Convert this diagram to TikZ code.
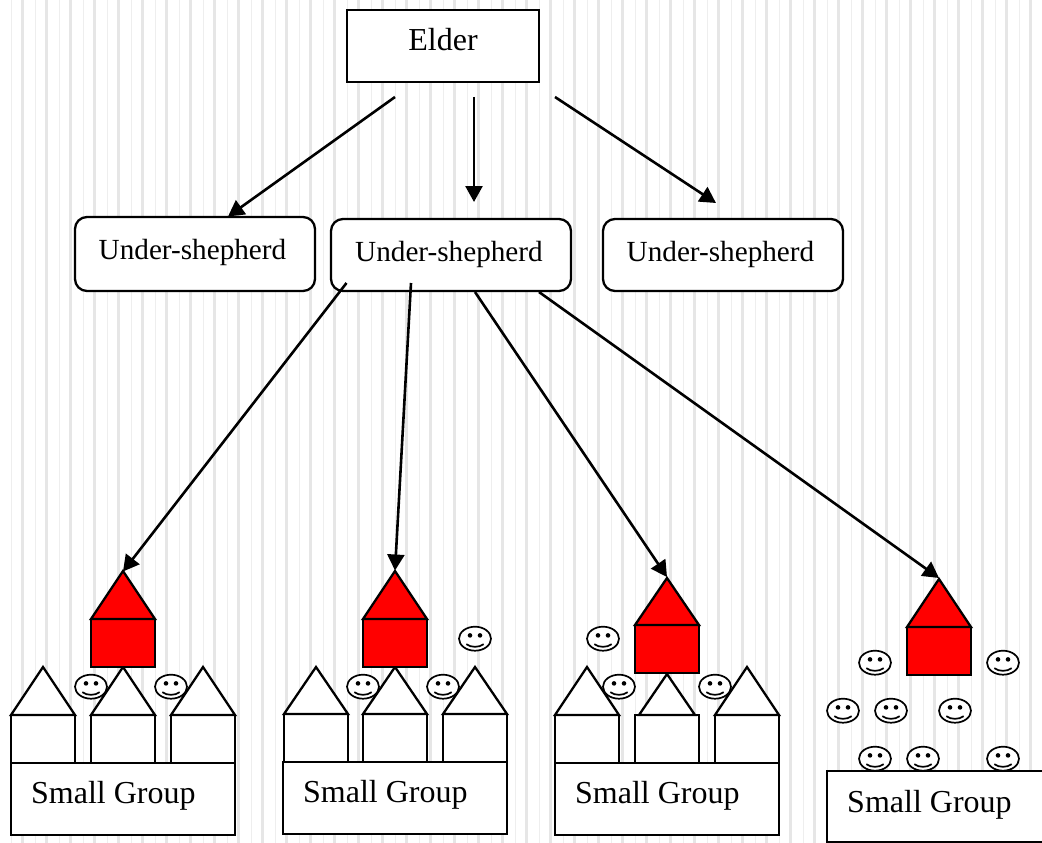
\documentclass[tikz,border=0pt]{standalone}
\usepackage{fontspec}
\setmainfont{Liberation Serif}
\usetikzlibrary{arrows.meta}
\definecolor{thickstripe}{HTML}{E6E6E6}
\definecolor{thinstripe}{HTML}{EEEEEE}
\definecolor{housered}{HTML}{FF0000}
\tikzset{
  ink/.style={draw=black,line width=2.3pt},
  plainbox/.style={ink,fill=white,rectangle,minimum width=#1,inner sep=0pt,outer sep=0pt},
  roundbox/.style={ink,fill=white,rectangle,rounded corners=12pt,minimum width=240pt,inner sep=0pt,outer sep=0pt},
  bigtext/.style={font=\fontsize{32}{36}\selectfont,anchor=base west,inner sep=0pt},
  midtext/.style={font=\fontsize{29.2}{33}\selectfont,anchor=base,inner sep=0pt},
  arrowline/.style={draw=black,line width=2.6pt,-{Triangle[length=16pt,width=17pt]}},
  smiley/.pic={
    \draw[black,line width=1.7pt,fill=white] (0,0) ellipse [x radius=16,y radius=12];
    \fill[black] (-5,-3.3) circle [radius=2.3] (5,-3.3) circle [radius=2.3];
    \draw[black,line width=1.7pt] (-8.7,5.5) .. controls (-4,9) and (4,9) .. (8.7,5.5);
  }
}
% #1 left, #2 apex y, #3 base y, #4 bottom y, #5 fill
\newcommand{\myhouse}[5]{%
  \filldraw[ink,fill=#5] (#1,#3) rectangle ({#1+64},#4);
  \filldraw[ink,fill=#5,line join=miter] (#1,#3) -- ({#1+32},#2) -- ({#1+64},#3) -- cycle;
}
\begin{document}
\begin{tikzpicture}[x=1pt,y=-1pt]
\useasboundingbox (0,0) rectangle (1042,843);
\clip (0,0) rectangle (1042,843);
\fill[white] (0,0) rectangle (1042,843);
\foreach \k in {0,...,42}{
  \fill[thinstripe] ({11.2+24*\k},0) rectangle ({12.4+24*\k},843);
  \fill[thickstripe] ({20.8+24*\k},0) rectangle ({23.8+24*\k},843);
}
% Elder and under-shepherds
\node[plainbox=192pt,minimum height=72pt] (elder) at (443,46) {};
\node[bigtext,anchor=base] (eldertext) at (443,51) {Elder};
\node[roundbox,minimum height=74pt] (us1) at (195,254) {};
\node[midtext] (us1text) at (192.5,259) {Under-shepherd};
\node[roundbox,minimum height=72pt] (us2) at (451,255) {};
\node[midtext] (us2text) at (449,261) {Under-shepherd};
\node[roundbox,minimum height=72pt] (us3) at (723,255) {};
\node[midtext] (us3text) at (720.5,261) {Under-shepherd};
% Group 1
\pic at (91,686.7) {smiley};
\pic at (171,686.7) {smiley};
\myhouse{11}{667}{715}{763}{white}
\myhouse{91}{667}{715}{763}{white}
\myhouse{171}{667}{715}{763}{white}
\myhouse{91}{571}{619}{667}{housered}
\node[plainbox=224pt,minimum height=72pt] (sg1) at (123,799) {};
\node[bigtext] (sg1text) at (31,803) {Small Group};
% Group 2
\pic at (363,686.7) {smiley};
\pic at (443,686.7) {smiley};
\pic at (475,638.7) {smiley};
\myhouse{284}{667}{714}{762}{white}
\myhouse{363}{667}{714}{762}{white}
\myhouse{443}{667}{714}{762}{white}
\myhouse{363}{571}{619}{667}{housered}
\node[plainbox=224pt,minimum height=72pt] (sg2) at (395,798) {};
\node[bigtext] (sg2text) at (303,802) {Small Group};
% Group 3
\pic at (715,686.7) {smiley};
\pic at (603,638.7) {smiley};
\myhouse{555}{667}{715}{763}{white}
\filldraw[ink,fill=white] (635,715) rectangle (699,763);
\filldraw[ink,fill=white] (639,715) -- (667,674) -- (695,715) -- cycle;
\myhouse{715}{667}{715}{763}{white}
\pic at (619,686.7) {smiley};
\myhouse{635}{578}{625}{673}{housered}
\node[plainbox=224pt,minimum height=72pt] (sg3) at (667,799) {};
\node[bigtext] (sg3text) at (575,803) {Small Group};
% Group 4
\myhouse{907}{579}{627}{675}{housered}
\pic at (875,662.7) {smiley};
\pic at (1003,662.7) {smiley};
\pic at (843,710.7) {smiley};
\pic at (891,710.7) {smiley};
\pic at (955,710.7) {smiley};
\pic at (875,758.7) {smiley};
\pic at (923,758.7) {smiley};
\pic at (1003,758.7) {smiley};
\node[plainbox=240pt,minimum height=71pt] (sg4) at (947,806.5) {};
\node[bigtext] (sg4text) at (847,812) {Small Group};
% Connector ends
\coordinate (eA) at (395,97);
\coordinate (eB) at (474,97);
\coordinate (eC) at (555,97);
\coordinate (tA) at (228,216.5);
\coordinate (tB) at (474,202);
\coordinate (tC) at (716,203);
\coordinate (uA) at (346.5,283);
\coordinate (uB) at (411,283);
\coordinate (uC) at (475,292);
\coordinate (uD) at (539,292);
\coordinate (rA) at (123,571.5);
\coordinate (rB) at (395,570.5);
\coordinate (rC) at (667,577);
\coordinate (rD) at (939,578);
\draw[arrowline] (eA) -- (tA);
\draw[arrowline] (eB) -- (tB);
\draw[arrowline] (eC) -- (tC);
\draw[arrowline] (uA) -- (rA);
\draw[arrowline] (uB) -- (rB);
\draw[arrowline] (uC) -- (rC);
\draw[arrowline] (uD) -- (rD);
\end{tikzpicture}
\end{document}
